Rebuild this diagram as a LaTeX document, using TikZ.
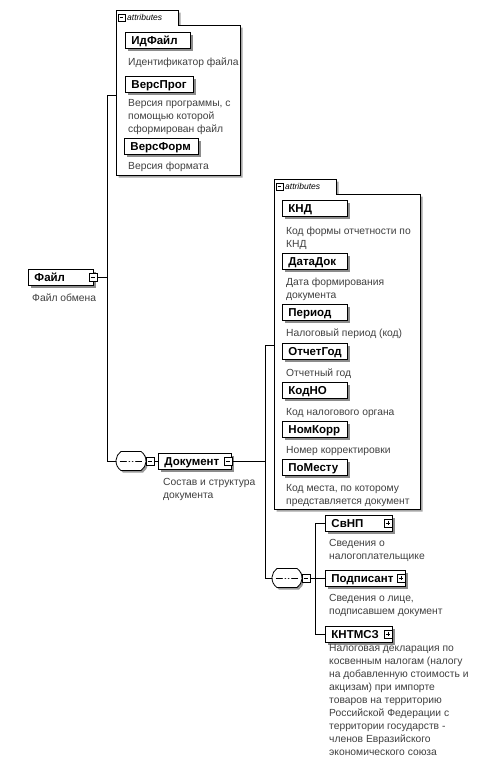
\documentclass[tikz,border=0pt]{standalone}
\usepackage{fontspec}
\setmainfont{Liberation Sans}
\usetikzlibrary{shadows,shapes.misc}
\begin{document}
\begin{tikzpicture}[x=1pt,y=-1pt,
  conn/.style={line width=0.8pt},
  elem/.style={draw, line width=0.9pt, fill=white, anchor=west,
    font=\fontsize{11.5}{13}\selectfont\bfseries, inner xsep=6pt, inner ysep=0pt,
    text height=8.2pt, text depth=0pt,
    minimum height=16pt, align=left,
    drop shadow={shadow xshift=2.5pt, shadow yshift=-2.5pt, fill=black!45, opacity=1}},
  desc/.style={anchor=base west, align=left, font=\fontsize{10.3}{13}\selectfont,
    text=black!75, inner sep=0pt},
  sqbox/.style={draw, fill=white, minimum size=8pt, inner sep=0pt, line width=0.5pt},
  minussq/.style={sqbox, path picture={\draw[line width=0.6pt]
    ([xshift=1.6pt]path picture bounding box.west) -- ([xshift=-1.6pt]path picture bounding box.east);}},
  plussq/.style={sqbox, path picture={\draw[line width=0.6pt]
    ([xshift=1.6pt]path picture bounding box.west) -- ([xshift=-1.6pt]path picture bounding box.east)
    ([yshift=-1.6pt]path picture bounding box.north) -- ([yshift=1.6pt]path picture bounding box.south);}},
  seqnode/.style={rounded rectangle, rounded rectangle arc length=110,
    draw, line width=0.8pt, fill=white, minimum width=30pt, minimum height=19pt, inner sep=0pt,
    drop shadow={shadow xshift=2pt, shadow yshift=-2pt, fill=black!40, opacity=1},
    path picture={\draw[line width=1pt]
      ([xshift=4pt]path picture bounding box.west) -- ([xshift=-4pt]path picture bounding box.east);
      \fill (path picture bounding box.center) circle (1.3pt)
        ([xshift=-3.2pt]path picture bounding box.center) circle (1.3pt)
        ([xshift=3.2pt]path picture bounding box.center) circle (1.3pt);}},
  tabtext/.style={anchor=west, font=\fontsize{8.5}{10}\selectfont\itshape, inner sep=0pt}
]
\useasboundingbox[fill=white] (0,0) rectangle (487,771);

% ---------- attributes box 1 ----------
\fill[black!35] (118.5,12.5) -- (180.5,12.5) -- (180.5,27.5) -- (242.5,27.5) -- (242.5,177.5) -- (118.5,177.5) -- cycle;
\draw[line width=0.7pt, fill=white] (116,10) -- (178,10) -- (178,25) -- (240,25) -- (240,175) -- (116,175) -- cycle;
\node[minussq, minimum size=7pt] (t1sq) at (121.5,17.5) {};
\node[tabtext] (t1txt) at (127,17.5) {attributes};
\coordinate (a1) at (116,95);

\node[elem, text width=53pt] (idf) at (125,40.5) {ИдФайл};
\node[desc] (idfd) at (128,65.5) {Идентификатор файла};
\node[elem, text width=56pt] (vprog) at (125,84.5) {ВерсПрог};
\node[desc] (vprogd) at (128,132.5) {Версия программы, с\\помощью которой\\сформирован файл};
\node[elem, text width=62pt] (vform) at (124,146) {ВерсФорм};
\node[desc] (vformd) at (128,169.5) {Версия формата};

% ---------- root ----------
\node[elem, text width=53pt] (file) at (28,277) {Файл};
\node[minussq] (filesq) at (93,277) {};
\node[desc] (filed) at (32,301.5) {Файл обмена};

\coordinate (j1top) at (107,95);
\coordinate (j1bot) at (107,461);
\coordinate (j1mid) at (107,277);
\draw[conn] (a1) -- (j1top) -- (j1bot);
\draw[conn] (filesq.east) -- (j1mid);

% ---------- sequence 1 ----------
\node[seqnode] (seq1) at (131,461) {};
\node[minussq] (seq1sq) at (150,461) {};
\draw[conn] (j1bot) -- (seq1.west);
\draw[conn] (seq1.east) -- (seq1sq.west);

\node[elem, text width=61pt] (doc) at (158,461) {Документ};
\node[minussq] (docsq) at (228,461) {};
\draw[conn] (seq1sq.east) -- (doc.west);
\node[desc] (docd) at (163,498.5) {Состав и структура\\документа};

\coordinate (j2top) at (265,345);
\coordinate (j2mid) at (265,461);
\coordinate (j2bot) at (265,578);
\draw[conn] (docsq.east) -- (j2mid);

% ---------- attributes box 2 ----------
\fill[black!35] (276.5,181.5) -- (338.5,181.5) -- (338.5,196.5) -- (422.5,196.5) -- (422.5,511.5) -- (276.5,511.5) -- cycle;
\draw[line width=0.7pt, fill=white] (274,179) -- (336,179) -- (336,194) -- (420,194) -- (420,509) -- (274,509) -- cycle;
\node[minussq, minimum size=7pt] (t2sq) at (279.5,186.5) {};
\node[tabtext] (t2txt) at (285,186.5) {attributes};
\coordinate (a2) at (274,345);
\draw[conn] (a2) -- (j2top) -- (j2bot);

\node[elem, text width=53pt] (knd) at (282,208) {КНД};
\node[desc] (kndd) at (286,247.5) {Код формы отчетности по\\КНД};
\node[elem, text width=53pt] (datadok) at (282,261) {ДатаДок};
\node[desc] (datadokd) at (286,298.5) {Дата формирования\\документа};
\node[elem, text width=53pt] (period) at (282,312) {Период};
\node[desc] (periodd) at (286,336.5) {Налоговый период (код)};
\node[elem, text width=53pt] (otchgod) at (282,351) {ОтчетГод};
\node[desc] (otchgodd) at (286,376) {Отчетный год};
\node[elem, text width=53pt] (kodno) at (282,390) {КодНО};
\node[desc] (kodnod) at (286,415) {Код налогового органа};
\node[elem, text width=53pt] (nomkorr) at (282,429) {НомКорр};
\node[desc] (nomkorrd) at (286,453.5) {Номер корректировки};
\node[elem, text width=53pt] (pomestu) at (282,467) {ПоМесту};
\node[desc] (pomestud) at (286,504.5) {Код места, по которому\\представляется документ};

% ---------- sequence 2 ----------
\node[seqnode] (seq2) at (287,578) {};
\node[minussq] (seq2sq) at (306,578) {};
\draw[conn] (j2bot) -- (seq2.west);
\draw[conn] (seq2.east) -- (seq2sq.west);

\coordinate (j3top) at (315,523);
\coordinate (j3mid) at (315,578);
\coordinate (j3bot) at (315,634);
\draw[conn] (seq2sq.east) -- (j3mid);
\draw[conn] (j3top) -- (j3bot);

\node[elem, text width=55pt] (svnp) at (325,523) {СвНП};
\node[plussq] (svnpsq) at (388,523) {};
\node[desc] (svnpd) at (329,559.5) {Сведения о\\налогоплательщике};
\node[elem, text width=68pt] (podp) at (325,578) {Подписант};
\node[plussq] (podpsq) at (401,578) {};
\node[desc] (podpd) at (329,614.5) {Сведения о лице,\\подписавшем документ};
\node[elem, text width=55pt] (kntmsz) at (325,634) {КНТМСЗ};
\node[plussq] (kntmszsq) at (388,634) {};
\node[desc] (kntmszd) at (329,755.5) {Налоговая декларация по\\косвенным налогам (налогу\\на добавленную стоимость и\\акцизам) при импорте\\товаров на территорию\\Российской Федерации с\\территории государств -\\членов Евразийского\\экономического союза};

\draw[conn] (j3top) -- (svnp.west);
\draw[conn] (j3mid) -- (podp.west);
\draw[conn] (j3bot) -- (kntmsz.west);
\end{tikzpicture}
\end{document}
